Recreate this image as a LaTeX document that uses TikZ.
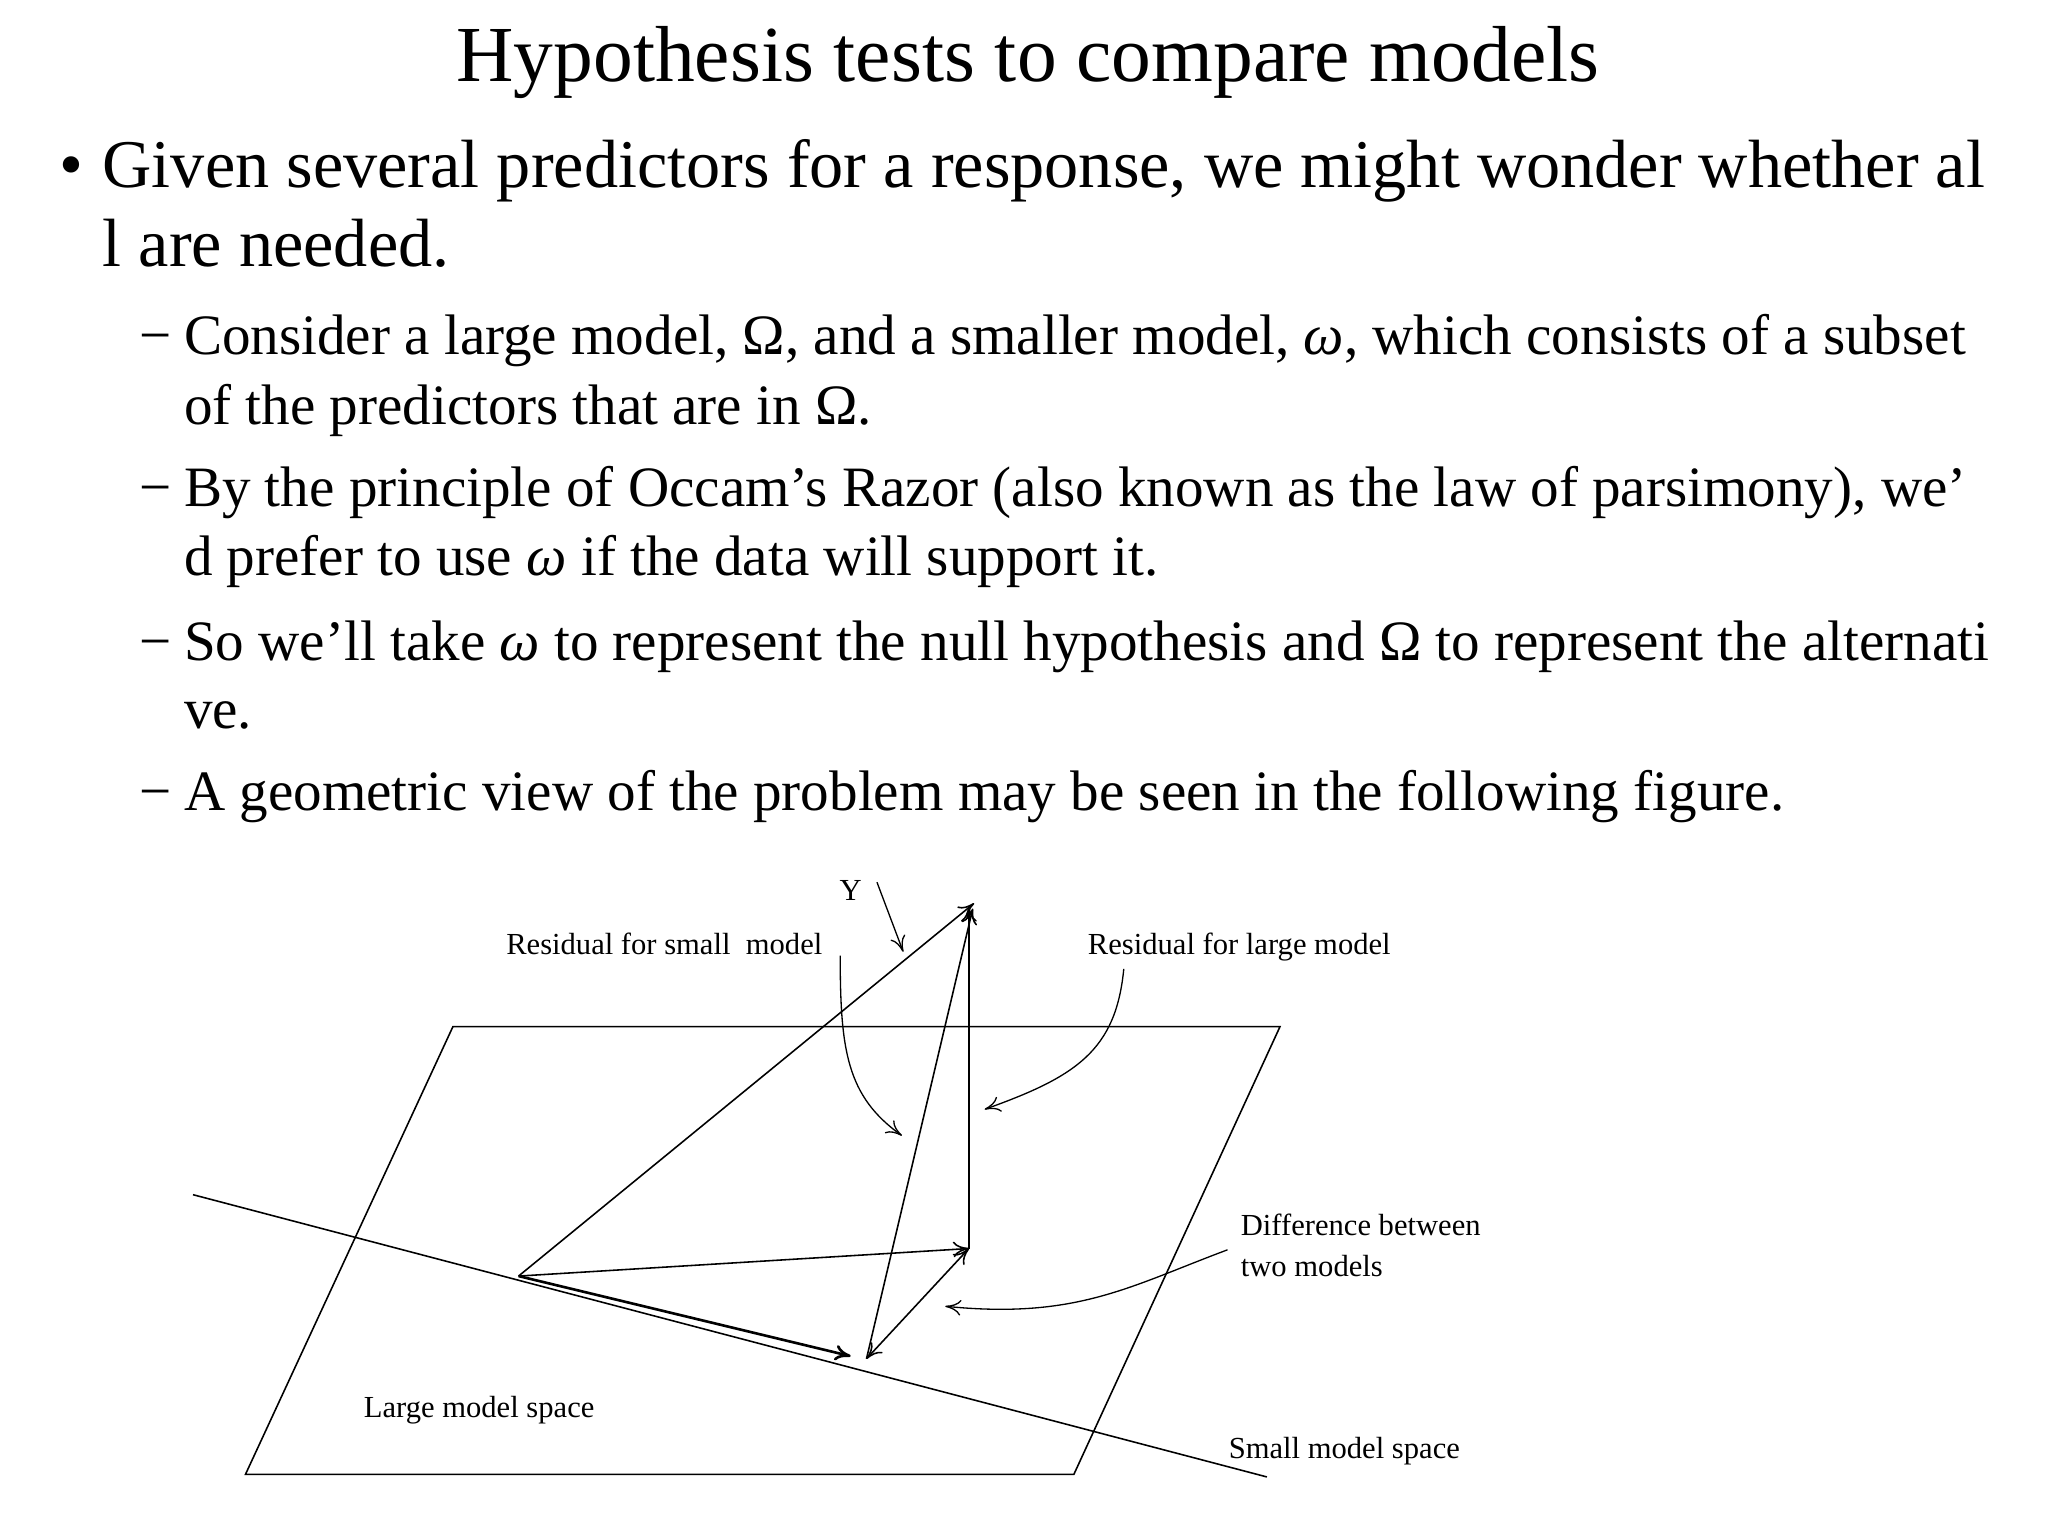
\documentclass[tikz,border=0pt]{standalone}
\usepackage{fontspec}
\setmainfont{Liberation Serif}
\usetikzlibrary{arrows.meta}
\begin{document}
\begin{tikzpicture}[x=1pt,y=-1pt,
  ttl/.style={anchor=base,inner sep=0pt,font=\fontsize{60.5}{64}\selectfont},
  lvA/.style={anchor=base west,inner sep=0pt,font=\fontsize{52}{56}\selectfont},
  lvB/.style={anchor=base west,inner sep=0pt,font=\fontsize{43.5}{48}\selectfont},
  lbl/.style={anchor=base,inner sep=0pt,font=\fontsize{23.3}{26}\selectfont},
  ln/.style={line width=1.2pt},
  vec/.style={line width=1.2pt,-{To[length=12pt,width=12pt]}},
  pt/.style={line width=1pt,-{To[length=12pt,width=12pt]}}]
\useasboundingbox (0,0) rectangle (1560,1170);
\fill[white] (0,0) rectangle (1560,1170);
\node[ttl] (title) at (783,62) {Hypothesis tests to compare models};
\node[lvA] (b1) at (45,143) {•};
\node[lvA] (l1) at (78,143) {Given several predictors for a response, we might wonder whether al};
\node[lvA] (l2) at (78,203) {l are needed.};
\foreach \y/\t [count=\i] in {270/{Consider a large model, Ω, and a smaller model, \textit{ω}, which consists of a subset},
 386/{By the principle of Occam’s Razor (also known as the law of parsimony), we’},
 503/{So we’ll take \textit{ω} to represent the null hypothesis and Ω to represent the alternati},
 617/{A geometric view of the problem may be seen in the following figure.}}
 {\node[lvB] (d\i) at (106,\y) {−}; \node[lvB] (s\i) at (140,\y) {\t};}
\node[lvB] (s1b) at (140,323) {of the predictors that are in Ω.};
\node[lvB] (s2b) at (140,438) {d prefer to use \textit{ω} if the data will support it.};
\node[lvB] (s3b) at (140,555) {ve.};
% figure
\coordinate (P1) at (345,782); \coordinate (P2) at (975,782);
\coordinate (P3) at (818,1123); \coordinate (P4) at (187,1123);
\draw[ln] (P1)--(P2)--(P3)--(P4)--cycle;
\coordinate (S1) at (147,910); \coordinate (S2) at (965,1125);
\draw[ln] (S1)--(S2);
\coordinate (O) at (395,972); \coordinate (Y) at (742,688);
\coordinate (L) at (738,951); \coordinate (Sm) at (660,1035);
\draw[vec] (O)--(Y);
\draw[vec] (L)--(738,690);
\draw[vec] (O)--(L);
\draw[vec,line width=2pt] (O)--(648,1033);
\draw[vec] (Sm)--(741,692);
\draw[line width=1.2pt,{To[length=12pt,width=12pt]}-{To[length=12pt,width=12pt]}] (Sm)--(L);
\node[lbl] (ty) at (648,686) {Y};
\node[lbl] (trs) at (506,727) {Residual for small\ \ model};
\node[lbl] (trl) at (944,727) {Residual for large model};
\node[lbl,anchor=base west] (td1) at (945,941) {Difference between};
\node[lbl,anchor=base west] (td2) at (945,972) {two models};
\node[lbl] (tlm) at (365,1080) {Large model space};
\node[lbl] (tsm) at (1024,1111) {Small model space};
\draw[pt] (668,672) -- (688,725);
\draw[pt] (640,728) .. controls (640,800) and (645,835) .. (687,865);
\draw[pt] (856,738) .. controls (850,800) and (820,820) .. (750,845);
\draw[pt] (935,952) .. controls (860,980) and (820,1005) .. (720,995);
\end{tikzpicture}
\end{document}
